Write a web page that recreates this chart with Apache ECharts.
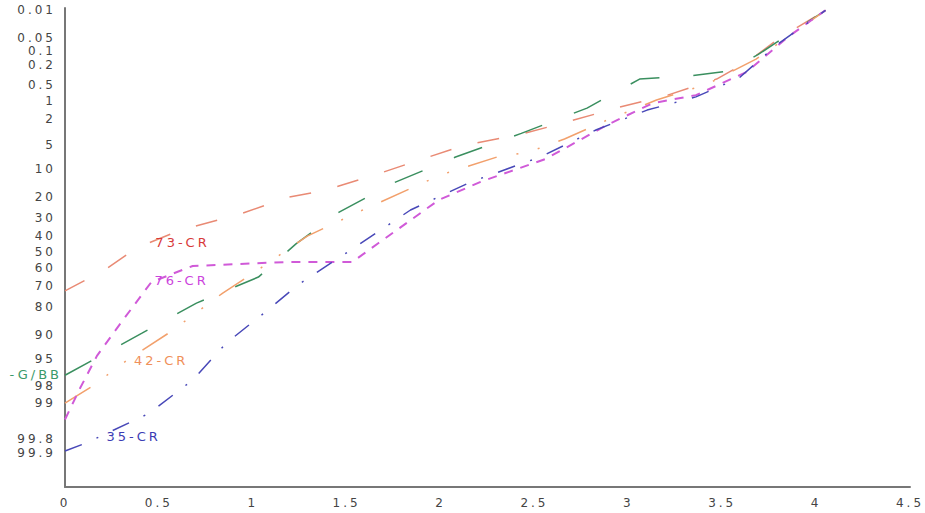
<!DOCTYPE html>
<html><head><meta charset="utf-8">
<script src="https://cdn.jsdelivr.net/npm/echarts@6/dist/echarts.min.js"></script>
<style>
html,body{margin:0;padding:0;background:#fff;}
#c{width:925px;height:513px;}
#c text{letter-spacing:3px;}
</style></head><body><div id="c"></div>
<script>
// ---- data (x value, exceedance probability in %) ----
const yTickLabels = ['0.01','0.05','0.1','0.2','0.5','1','2','5','10','20','30','40','50','60','70','80','90','95','98','99','99.8','99.9'];

const cr73X = [0, 0.21, 0.38, 0.61, 0.93, 1.19, 1.39, 1.65, 1.89, 2.13, 2.43, 2.69, 2.95, 3.21, 3.47, 3.64, 3.80, 4.05];
const cr73P = [72.5, 61, 47.5, 37, 28, 20, 17, 11.8, 7.8, 5.0, 3.5, 2.2, 1.3, 0.79, 0.39, 0.165, 0.052, 0.01];

const gbbX = [0, 0.41, 0.70, 1.03, 1.23, 1.46, 1.75, 2.08, 2.43, 2.78, 3.06, 3.32, 3.53, 3.69, 4.05];
const gbbP = [97.1, 89.4, 78.4, 65, 45, 27, 14.4, 7.2, 3.4, 1.34, 0.39, 0.34, 0.27, 0.12, 0.01];

const cr42X = [0, 0.14, 0.33, 0.56, 0.84, 0.98, 1.29, 1.56, 2.00, 2.30, 2.47, 2.66, 2.89, 3.15, 3.42, 3.68, 4.05];
const cr42P = [99.0, 98.1, 95.2, 89.1, 73.6, 64.4, 40.3, 27, 11.8, 7.2, 6.2, 4.1, 2.1, 0.97, 0.49, 0.15, 0.01];

const cr76X = [0, 0.08, 0.17, 0.30, 0.46, 0.68, 1.18, 1.53, 1.67, 1.99, 2.21, 2.56, 2.89, 3.13, 3.36, 3.63, 3.85, 4.05];
const cr76P = [99.5, 98.2, 94.5, 86.0, 67.8, 58.5, 56.1, 56.1, 44.5, 21.2, 14.1, 7.6, 2.5, 1.1, 0.79, 0.28, 0.047, 0.01];

const cr35X = [0, 0.12, 0.45, 0.68, 0.86, 1.08, 1.24, 1.57, 1.84, 2.16, 2.53, 2.83, 3.10, 3.36, 3.59, 3.79, 4.05];
const cr35P = [99.89, 99.83, 99.34, 97.55, 91.9, 81.4, 69.4, 45.1, 25.9, 14.1, 7.2, 3.0, 1.45, 0.85, 0.37, 0.072, 0.01];

// inverse standard normal (probability scale)
function ninv(p){
  const a=[-3.969683028665376e+01,2.209460984245205e+02,-2.759285104469687e+02,1.383577518672690e+02,-3.066479806614716e+01,2.506628277459239e+00];
  const b=[-5.447609879822406e+01,1.615858368580409e+02,-1.556989798598866e+02,6.680131188771972e+01,-1.328068155288572e+01];
  const c=[-7.784894002430293e-03,-3.223964580411365e-01,-2.400758277161838e+00,-2.549732539343734e+00,4.374664141464968e+00,2.938163982698783e+00];
  const d=[7.784695709041462e-03,3.224671290700398e-01,2.445134137142996e+00,3.754408661907416e+00];
  const pl=0.02425, ph=1-pl; let q,r;
  if(p<pl){q=Math.sqrt(-2*Math.log(p));return (((((c[0]*q+c[1])*q+c[2])*q+c[3])*q+c[4])*q+c[5])/((((d[0]*q+d[1])*q+d[2])*q+d[3])*q+1);}
  if(p<=ph){q=p-0.5;r=q*q;return (((((a[0]*r+a[1])*r+a[2])*r+a[3])*r+a[4])*r+a[5])*q/(((((b[0]*r+b[1])*r+b[2])*r+b[3])*r+b[4])*r+1);}
  q=Math.sqrt(-2*Math.log(1-p));return -(((((c[0]*q+c[1])*q+c[2])*q+c[3])*q+c[4])*q+c[5])/((((d[0]*q+d[1])*q+d[2])*q+d[3])*q+1);
}
const zTicks = yTickLabels.map(s => ninv(parseFloat(s)/100));

function mk(name, text, xs, ps, color, dash, width, labelIdx, labelOpt){
  return {
    type:'line', name, symbol:'circle', symbolSize:0, showSymbol:true, silent:true, clip:false,
    lineStyle:{color, width, type:dash}, itemStyle:{color},
    data: xs.map((x,i)=>{
      const v=[x, ninv(ps[i]/100)];
      if(i===labelIdx) return {value:v, label:Object.assign({show:true, formatter:text, fontFamily:'DejaVu Sans', fontSize:13}, labelOpt)};
      return v;
    })
  };
}

const chart = echarts.init(document.getElementById('c'), null, {renderer:'svg'});
chart.setOption({
  animation:false,
  backgroundColor:'#fff',
  grid:{left:65, right:15, top:8, bottom:26, containLabel:false},
  xAxis:{type:'value', min:0, max:4.5, interval:0.5,
    axisLine:{show:true, onZero:false, lineStyle:{color:'#777', width:2}},
    axisTick:{show:false}, splitLine:{show:false},
    axisLabel:{color:'#444', fontSize:12, fontFamily:'DejaVu Sans', margin:10, showMaxLabel:true}},
  yAxis:{type:'value', inverse:true, min:-3.754, max:3.615,
    axisLine:{show:true, onZero:false, lineStyle:{color:'#777', width:2}},
    axisTick:{show:false}, splitLine:{show:false},
    axisLabel:{customValues:zTicks, color:'#444', fontSize:12, fontFamily:'DejaVu Sans', margin:9,
      formatter:(v)=>{let bi=0,bd=1e9; zTicks.forEach((z,i)=>{const dd=Math.abs(z-v); if(dd<bd){bd=dd;bi=i;}}); return yTickLabels[bi];}}},
  series:[
    mk('73-CR','73-CR', cr73X, cr73P, '#e98a74', [22,27], 1.5, 2, {position:'right', color:'#d83a3a', offset:[14,-5]}),
    mk('G/BB','-G/BB', gbbX, gbbP, '#3a8f5f', [30,34], 1.5, 0, {position:'left', color:'#3a9a6a', distance:3, offset:[0,-1]}),
    mk('42-CR','42-CR', cr42X, cr42P, '#f2a06c', [30,20,2,20,2,20], 1.5, 2, {position:'right', color:'#f0905a', offset:[2,0]}),
    mk('76-CR','76-CR', cr76X, cr76P, '#d05ad8', [9,8], 2, 4, {position:'right', color:'#cc44dd', offset:[-2,-2]}),
    mk('35-CR','35-CR', cr35X, cr35P, '#4848b8', [18,16,2,16], 1.5, 1, {position:'right', color:'#3c3cb4', offset:[14,-6]})
  ]
});
</script></body></html>
